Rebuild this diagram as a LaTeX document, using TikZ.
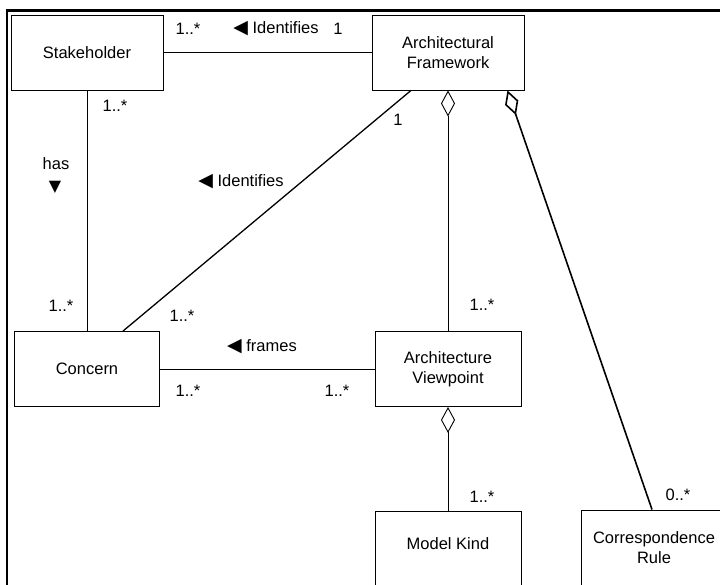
\documentclass[tikz,border=0pt]{standalone}
\usepackage{fontspec}
\setmainfont{Liberation Sans}
\newfontfamily\symfont{DejaVu Sans}
\usetikzlibrary{arrows.meta}
\newcommand{\triLeft}{{\symfont\fontsize{19}{19}\selectfont ◀}}
\newcommand{\triDown}{{\symfont\fontsize{16}{16}\selectfont ▼}}
\begin{document}
\begin{tikzpicture}[x=1pt, y=-1pt,
    font=\fontsize{16.5}{20}\selectfont,
    box/.style={draw, line width=0.9pt, minimum width=146pt, minimum height=75pt, align=center, inner sep=0pt},
    widebox/.style={box, minimum width=152pt},
    assoc/.style={line width=0.9pt},
    agg/.style={line width=0.9pt, {Diamond[open, length=26pt, width=14pt]}-}]
    \clip (0,0) rectangle (720,584);
    \fill[white] (0,0) rectangle (720,584);
    \draw[line width=2.5pt] (7,590) -- (7,10.5) -- (725,10.5);

    % classes
    \node[widebox] (stake) at (87,52.5) {Stakeholder};
    \node[widebox] (af) at (448,52.5) {Architectural\\Framework};
    \node[box, minimum width=145pt] (concern) at (87,369) {Concern};
    \node[box] (av) at (448,369) {Architecture\\Viewpoint};
    \node[box, text depth=9pt] (mk) at (448,548.5) {Model Kind};
    \node[box] (cr) at (654,547.5) {Correspondence\\Rule};

    % associations
    \draw[assoc] (stake) -- (af);
    \draw[assoc] (stake) -- (concern);
    \draw[assoc, line width=1.3pt] ([xshift=-37pt]af.south) -- ([xshift=36pt]concern.north);
    \draw[assoc] (concern) -- (av);
    \draw[agg] (af) -- (av);
    \draw[agg] (av) -- (mk);
    \draw[agg, line width=1.6pt] ([xshift=-17pt]af.south east) -- ([xshift=-2pt]cr.north);

    % multiplicities and role names
    \node (mStakeTop) at (188,29) {1..*};
    \node (idTop) at (276,29) {\triLeft\ Identifies};
    \node (mAfLeft) at (338,29) {1};
    \node (mStakeDown) at (115,106) {1..*};
    \node (has) at (56,164) {has};
    \node (hasTri) at (55,187) {\triDown};
    \node (mConcernUp) at (61,306) {1..*};
    \node (idDiag) at (241,182) {\triLeft\ Identifies};
    \node (mAfDiag) at (398,120) {1};
    \node (mConcernDiag) at (182,316) {1..*};
    \node (frames) at (262,347) {\triLeft\ frames};
    \node (mConcernRight) at (188,391) {1..*};
    \node (mAvLeft) at (337,391) {1..*};
    \node (mAvUp) at (482,305) {1..*};
    \node (mMk) at (482,497) {1..*};
    \node (mCr) at (678,495) {0..*};
\end{tikzpicture}
\end{document}
